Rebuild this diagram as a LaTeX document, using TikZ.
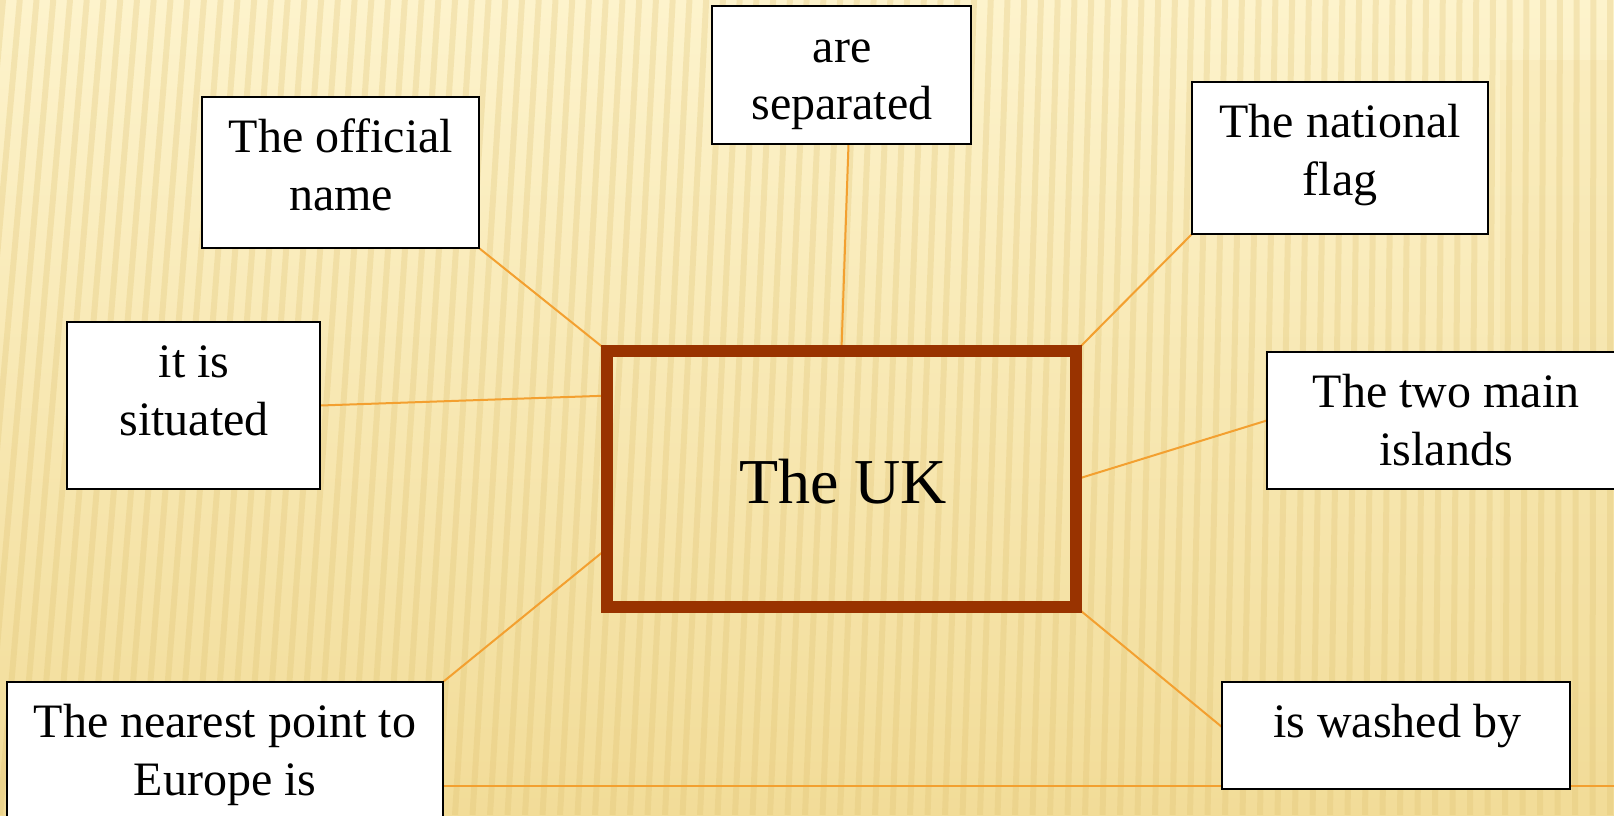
\documentclass[tikz,border=0pt]{standalone}
\usepackage{fontspec}
\setmainfont{Liberation Serif}
\usetikzlibrary{calc}
\definecolor{bgtop}{RGB}{253,243,204}
\definecolor{bgbot}{RGB}{242,220,152}
\definecolor{stripe}{RGB}{222,192,110}
\definecolor{conn}{RGB}{243,160,48}
\definecolor{ukbrown}{RGB}{153,51,0}
\tikzset{
  box/.style={draw=black, line width=2.4pt, fill=white, inner sep=0pt, rectangle},
  ukbox/.style={draw=ukbrown, line width=8pt, inner sep=0pt, rectangle},
  txt/.style={inner sep=0pt, anchor=base, font=\fontsize{48}{58}\selectfont},
  uktxt/.style={inner sep=0pt, anchor=base, font=\fontsize{64}{76}\selectfont},
  connector/.style={draw=conn, line width=2pt},
}
\begin{document}
\begin{tikzpicture}[x=1pt,y=-1pt]
\useasboundingbox (0,0) rectangle (1614,815);
\clip (0,0) rectangle (1614,815);
% background
\fill[top color=bgtop, bottom color=bgbot] (0,0) rectangle (1614,815);
\fill[bgbot, opacity=0.2] (1500,60) rectangle (1614,815);
\foreach \i in {-5,...,97}{
  \pgfmathsetmacro{\xx}{\i*17.5}
  \pgfmathsetmacro{\tt}{70*(1-\i*17.5/1614)}
  \draw[stripe, line width=6pt, opacity=0.28] (\xx+\tt,0) -- (\xx,815);
}
% nodes
\node[ukbox, minimum width=465pt, minimum height=251.5pt] (uk) at (841.5,478.75) {};
\node[box, minimum width=275pt, minimum height=149pt] (official) at (340.5,172.5) {};
\node[box, minimum width=257pt, minimum height=136pt] (separated) at (841.5,75) {};
\node[box, minimum width=294pt, minimum height=150pt] (flag) at (1340,158) {};
\node[box, minimum width=251pt, minimum height=165pt] (situated) at (193.5,405.5) {};
\node[box, minimum width=356pt, minimum height=135pt] (islands) at (1446,420.5) {};
\node[box, minimum width=434pt, minimum height=154pt] (nearest) at (225,760) {};
\node[box, minimum width=346pt, minimum height=105pt] (washed) at (1396,735.5) {};
\coordinate (hend) at (1614,786);
% connectors
\draw[connector] (nearest.east |- hend) -- (hend);
\draw[connector] (official.south east) -- (uk.north west);
\draw[connector] ($(separated.south)+(7,0)$) -- (uk.north);
\draw[connector] (flag.south west) -- (uk.north east);
\draw[connector] (situated.east) -- ($(uk.north west)!0.18!(uk.south west)$);
\draw[connector] (islands.west) -- (uk.east);
\draw[connector] (nearest.north east) -- ($(uk.north west)!0.775!(uk.south west)$);
\draw[connector] ($(washed.north west)!0.42!(washed.south west)$) -- (uk.south east);
% boxes on top of connectors
\draw[ukbrown, line width=8pt] (uk.north west) rectangle (uk.south east);
\foreach \b in {official,separated,flag,situated,islands,nearest,washed}{
  \filldraw[fill=white, draw=black, line width=2.4pt] (\b.north west) rectangle (\b.south east);
}
% texts
\node[uktxt] (tuk) at (843,503) {The UK};
\node[txt] (toff1) at (341,152) {The official};
\node[txt] (toff2) at (341,210) {name};
\node[txt] (tsep1) at (842,62) {are};
\node[txt] (tsep2) at (842,119) {separated};
\node[txt] (tflag1) at (1340,137) {The national};
\node[txt] (tflag2) at (1340,195) {flag};
\node[txt] (tsit1) at (194,377) {it is};
\node[txt] (tsit2) at (194,435) {situated};
\node[txt] (tisl1) at (1446,407) {The two main};
\node[txt] (tisl2) at (1446,465) {islands};
\node[txt] (tnear1) at (225,737) {The nearest point to};
\node[txt] (tnear2) at (225,795) {Europe is};
\node[txt] (twash) at (1397,737) {is washed by};
\end{tikzpicture}
\end{document}
